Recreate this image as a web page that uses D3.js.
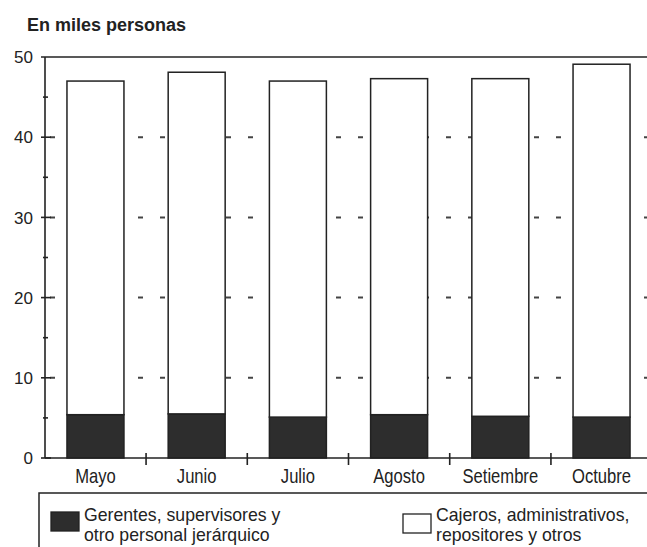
<!DOCTYPE html>
<html>
<head>
<meta charset="utf-8">
<script src="https://cdn.jsdelivr.net/npm/d3@7"></script>
<style>
  body { margin: 0; background: #fff; }
  svg { display: block; }
  text { font-family: "Liberation Sans", Arial, sans-serif; }
</style>
</head>
<body>
<svg id="chart" width="647" height="547"></svg>
<script>
// valores en miles de personas
var meses = ["Mayo", "Junio", "Julio", "Agosto", "Setiembre", "Octubre"];
var gerentes = [5.4, 5.5, 5.1, 5.4, 5.2, 5.1];
var cajeros = [41.6, 42.6, 41.9, 41.9, 42.1, 44.0];
var yLabels = [0, 10, 20, 30, 40, 50];
var yMinor = [5, 15, 25, 35, 45];
var gridLevels = [10, 20, 30, 40];
var titulo = "En miles personas";
var leyenda = [
    ["Gerentes, supervisores y", "otro personal jerárquico"],
    ["Cajeros, administrativos,", "repositores y otros"]
];

var ink = "#222";
var dark = "#2d2d2d";
var squeeze = 0.83;   // narrow face for month names
var squeezeLg = 1.01; // legend

var svg = d3.select("#chart");
var mLeft = 45, mTop = 57, mBottom = 458, mRight = 647;

var x = d3.scaleBand().domain(meses).range([mLeft, 652]).paddingInner(0.437).paddingOuter(0.217);
var y = d3.scaleLinear().domain([0, 50]).range([mBottom, mTop]);

var rows = meses.map(function(m, i) { return {mes: m, gerentes: gerentes[i], cajeros: cajeros[i]}; });
var stack = d3.stack().keys(["gerentes", "cajeros"])(rows);

// title
svg.append("text")
    .attr("x", 27).attr("y", 31)
    .attr("font-weight", "bold")
    .attr("font-size", 18)
    .attr("fill", ink)
    .text(titulo);

// dashed guide lines (hidden behind bars)
svg.append("g").selectAll("line").data(gridLevels).join("line")
    .attr("x1", mLeft).attr("x2", mRight)
    .attr("y1", function(d) { return y(d); }).attr("y2", function(d) { return y(d); })
    .attr("stroke", "#444").attr("stroke-width", 2)
    .attr("stroke-dasharray", "5,17").attr("stroke-dashoffset", 17);

// bars
var fills = {gerentes: dark, cajeros: "#fff"};
svg.append("g").selectAll("g").data(stack).join("g")
    .attr("fill", function(s) { return fills[s.key]; })
    .selectAll("rect").data(function(s) { return s; }).join("rect")
        .attr("x", function(d) { return x(d.data.mes); })
        .attr("width", x.bandwidth())
        .attr("y", function(d) { return y(d[1]); })
        .attr("height", function(d) { return y(d[0]) - y(d[1]); })
        .attr("stroke", ink).attr("stroke-width", 1.5);

// frame lines
var frame = svg.append("g").attr("stroke", ink).attr("stroke-width", 1.6);
frame.append("line").attr("x1", 41).attr("x2", mRight).attr("y1", y(50)).attr("y2", y(50));
frame.append("line").attr("x1", mLeft).attr("x2", mLeft).attr("y1", y(50)).attr("y2", y(0));
frame.append("line").attr("x1", mLeft).attr("x2", mRight).attr("y1", y(0)).attr("y2", y(0));

// y ticks
frame.selectAll(".maj").data(yLabels.slice(0, 5)).join("line").attr("class", "maj")
    .attr("x1", 41).attr("x2", 51)
    .attr("y1", function(d) { return y(d); }).attr("y2", function(d) { return y(d); });
frame.selectAll(".min").data(yMinor).join("line").attr("class", "min")
    .attr("x1", 43).attr("x2", 48)
    .attr("y1", function(d) { return y(d); }).attr("y2", function(d) { return y(d); });

svg.append("g").selectAll("text").data(yLabels).join("text")
    .attr("x", 33).attr("y", function(d) { return y(d); })
    .attr("dy", "0.36em")
    .attr("text-anchor", "end")
    .attr("font-size", 17)
    .attr("fill", ink)
    .text(function(d) { return d; });

// category separators on x axis
var gap = x.step() - x.bandwidth();
frame.selectAll(".sep").data(meses).join("line").attr("class", "sep")
    .attr("x1", function(d) { return x(d) + x.bandwidth() + gap / 2; })
    .attr("x2", function(d) { return x(d) + x.bandwidth() + gap / 2; })
    .attr("y1", 453).attr("y2", 465);

svg.append("g").selectAll("text").data(meses).join("text")
    .attr("transform", function(d) {
        return "translate(" + (x(d) + x.bandwidth() / 2) + ",483) scale(" + squeeze + ",1)";
    })
    .attr("text-anchor", "middle")
    .attr("font-size", 20)
    .attr("fill", ink)
    .text(function(d) { return d; });

// legend
var lg = svg.append("g");
lg.append("rect").attr("x", 39).attr("y", 493).attr("width", 640).attr("height", 80)
    .attr("fill", "none").attr("stroke", ink).attr("stroke-width", 1.5);

var items = [
    {sw: [51, 512], tx: 84, fill: dark, lines: leyenda[0]},
    {sw: [403, 514], tx: 436, fill: "#fff", lines: leyenda[1]}
];
items.forEach(function(it) {
    lg.append("rect").attr("x", it.sw[0]).attr("y", it.sw[1]).attr("width", 28).attr("height", 19)
        .attr("fill", it.fill).attr("stroke", ink).attr("stroke-width", 1.3);
    lg.append("g").selectAll("text").data(it.lines).join("text")
        .attr("transform", function(d, i) {
            return "translate(" + it.tx + "," + (520.5 + i * 20.5) + ") scale(" + squeezeLg + ",1)";
        })
        .attr("font-size", 17.5).attr("fill", ink)
        .text(function(d) { return d; });
});
</script>
</body>
</html>
